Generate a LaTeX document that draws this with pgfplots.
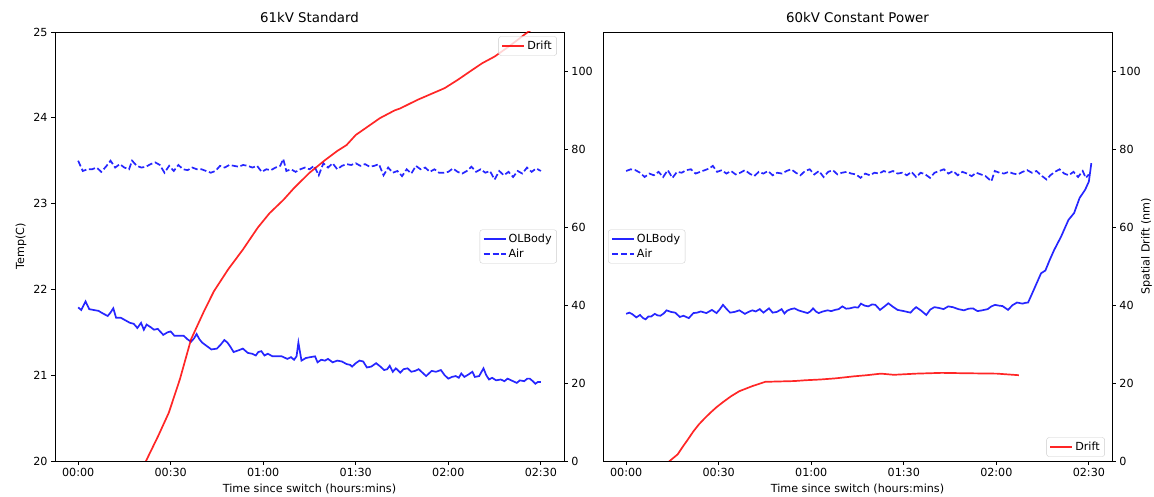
\documentclass[border=0pt]{standalone}
\usepackage{fontspec}
\setmainfont{DejaVu Sans}
\usepackage{pgfplots}
\pgfplotsset{compat=1.18}
\usepackage{pgfplotstable}

% ---------- Left panel: 61kV Standard ----------
\pgfplotstableread{
t T
0 21.79
1 21.76
2.4 21.86
3.6 21.77
5 21.76
6.6 21.75
8 21.72
9.6 21.69
10.5 21.73
11.4 21.78
12.3 21.67
13.8 21.67
15.3 21.64
16.8 21.61
18 21.60
19.2 21.55
20.4 21.61
21.3 21.53
22.2 21.59
23.5 21.56
24.6 21.53
25.8 21.54
27.6 21.47
29 21.50
30 21.51
31.2 21.46
33 21.46
34.2 21.46
35.4 21.42
36.6 21.39
37.6 21.43
38.4 21.48
39.3 21.42
40.2 21.38
41.7 21.34
43.2 21.30
45 21.31
46.3 21.36
47.4 21.41
48.4 21.38
49.2 21.34
50.4 21.27
52 21.29
53.4 21.31
55 21.26
56.4 21.25
57.6 21.23
58.4 21.27
59.4 21.28
60.4 21.23
61.5 21.25
63 21.22
64.2 21.22
66 21.22
67.8 21.19
69 21.21
70 21.18
70.8 21.22
71.4 21.38
72.4 21.17
73.8 21.20
75.2 21.21
76.8 21.22
77.6 21.15
78.8 21.18
80 21.17
81 21.19
82.5 21.15
84 21.17
85.5 21.16
87 21.13
88.2 21.12
88.8 21.10
90 21.14
91.2 21.17
92.4 21.16
93.6 21.09
95 21.10
96.6 21.14
98 21.10
99.2 21.06
100.2 21.07
101 21.11
102 21.04
103 21.08
104.4 21.03
105.5 21.07
106.8 21.08
108 21.04
109.2 21.05
110.4 21.07
111.6 21.03
112.8 20.99
114 21.03
114.6 21.05
116 21.04
117.6 21.06
118.8 21.00
120 20.96
121.2 20.98
122.4 20.99
123.4 20.97
124.2 21.02
125.2 20.98
126.6 21.01
127.8 21.04
128.6 20.98
130 20.99
131.4 21.08
132.3 21.00
133.2 20.95
134.2 20.97
135.5 20.94
137 20.95
138.2 20.93
139.2 20.96
140.4 20.94
142.2 20.91
143.2 20.94
144.6 20.93
145.6 20.96
146.4 20.96
147.4 20.93
148.2 20.90
149 20.92
150 20.92
}\olbodyA

\pgfplotstableread{
t T
0 23.50
1.5 23.38
3 23.40
4.5 23.40
6 23.42
7.5 23.37
9 23.43
10.5 23.50
12 23.42
13.5 23.46
15 23.42
16.5 23.40
17.5 23.50
19 23.44
20.5 23.42
22 23.43
23.5 23.46
25 23.48
26.5 23.45
28 23.36
29.5 23.44
31 23.38
32.5 23.45
34 23.40
35.5 23.39
37 23.42
38.5 23.40
40 23.40
41.5 23.38
43 23.36
44.5 23.38
46 23.44
47.5 23.42
49 23.45
50.5 23.44
52 23.43
53.5 23.45
55 23.44
56.5 23.42
58 23.44
59.5 23.37
61 23.40
62.5 23.39
64 23.42
65.5 23.44
66.5 23.52
67.5 23.38
69 23.40
70.5 23.37
72 23.40
73.5 23.42
75 23.40
76.5 23.44
78 23.33
79.5 23.47
81 23.42
82.5 23.47
84 23.40
85.5 23.44
87 23.46
88.5 23.45
90 23.47
91.5 23.44
93 23.46
94.5 23.43
96 23.44
97.5 23.46
99 23.33
100.5 23.42
102 23.36
103.5 23.38
105 23.32
106.5 23.40
108 23.35
109.5 23.44
111 23.40
112.5 23.42
114 23.37
115.5 23.40
117 23.36
118.5 23.36
120 23.37
121.5 23.41
123 23.37
124.5 23.35
126 23.38
127.5 23.43
129 23.37
130.5 23.40
132 23.36
133.5 23.38
135 23.28
136.5 23.38
138 23.33
139.5 23.37
141 23.31
142.5 23.38
144 23.35
145.5 23.42
147 23.37
148.5 23.41
150 23.38
}\airA

\pgfplotstableread{
t D
16 -10
22 0
26 6.5
29.4 12.4
33 21
36.6 31.2
40.8 38.4
44 43.5
48.6 49.1
53.4 54.2
58.2 59.8
62 63.5
66.6 67
70 70
75 73.9
79.8 77
84 79.5
87 81
90 83.6
94 85.8
97.8 87.9
102.6 89.9
104.4 90.4
110 92.6
118.8 95.6
123 97.7
127.8 100.3
131 102
135 103.7
140 106.5
145.8 110
150 112
}\driftA

% ---------- Right panel: 60kV Constant Power ----------
\pgfplotstableread{
t T
0 21.715
1 21.729
2 21.711
3.3 21.674
4.5 21.702
5.5 21.665
6.3 21.652
7.2 21.684
8.1 21.684
9.3 21.715
10.2 21.697
11.1 21.693
12.2 21.720
13.1 21.756
14.5 21.738
15.9 21.729
17.4 21.679
18.6 21.693
20.3 21.665
21.8 21.724
23 21.729
24.2 21.743
26 21.724
27.8 21.761
29.3 21.724
30.3 21.765
31.4 21.820
32.6 21.770
33.7 21.729
35.2 21.738
36.7 21.756
38.5 21.715
39.7 21.738
40.9 21.756
42 21.743
43.3 21.770
44.5 21.729
46.3 21.779
47.5 21.729
48.9 21.738
50.4 21.770
51.3 21.720
52.2 21.752
53.4 21.770
54.6 21.779
55.8 21.756
57 21.743
58.8 21.724
59.7 21.743
60.6 21.779
61.5 21.743
62.4 21.724
63.8 21.743
65.3 21.756
66.5 21.747
67.7 21.761
68.9 21.770
70.1 21.802
71.3 21.775
72.5 21.779
74 21.793
75.2 21.788
76.1 21.834
77.3 21.811
78.5 21.802
79.7 21.825
80.8 21.820
82.3 21.761
83.6 21.797
85 21.838
86.5 21.797
88 21.761
90 21.747
92.2 21.729
93.1 21.765
94 21.793
95.5 21.756
97.3 21.702
98.6 21.765
99.9 21.793
101.4 21.784
102.9 21.770
104.4 21.802
105.9 21.793
107.7 21.770
109.5 21.756
111 21.775
112.4 21.779
113.9 21.747
115.4 21.756
117.2 21.770
118.4 21.802
119.6 21.820
120.8 21.811
122 21.806
123.8 21.761
125.2 21.815
126.7 21.847
128.5 21.834
129.4 21.843
130.3 21.847
132.1 21.992
134.5 22.188
135.9 22.220
137.3 22.343
138.7 22.456
141 22.616
143.4 22.811
145.2 22.889
147 23.066
148.8 23.162
150 23.257
150.8 23.471
}\olbodyB

\pgfplotstableread{
t T
0 23.38
1.5 23.40
3 23.39
4.5 23.36
6 23.31
7.5 23.35
9 23.33
10.5 23.37
12 23.31
13.5 23.39
15 23.30
16.5 23.37
18 23.36
19.5 23.39
21 23.40
22.5 23.35
24 23.37
25.5 23.39
27 23.41
28.1 23.44
29.5 23.37
31 23.39
32.5 23.35
34 23.38
35.5 23.34
37 23.36
38.5 23.39
40 23.35
41.5 23.32
43 23.37
44.5 23.35
46 23.38
47.5 23.33
49 23.36
50.5 23.35
52 23.38
53.5 23.40
55 23.36
56.5 23.33
58 23.38
59.5 23.40
61 23.34
62.5 23.38
64 23.31
65.5 23.37
67 23.39
68.5 23.34
70 23.36
71.5 23.37
73 23.35
74.5 23.34
76 23.30
77.5 23.35
79 23.33
80.5 23.36
82 23.35
83.5 23.38
85 23.36
86.5 23.38
88 23.35
89.5 23.36
91 23.33
92.5 23.37
94 23.31
95.5 23.36
97 23.34
98.5 23.30
100 23.36
101.5 23.38
103 23.40
104.5 23.35
106 23.38
107.5 23.33
109 23.37
110.5 23.35
112 23.32
113.5 23.36
115 23.34
116.5 23.32
118.4 23.26
119.5 23.38
121 23.36
122.5 23.35
124 23.37
125.5 23.35
127 23.34
128.5 23.37
130 23.39
131.5 23.36
133 23.38
134.5 23.33
136.3 23.28
137.5 23.33
139 23.37
140.5 23.40
142 23.35
143.5 23.33
145 23.37
146.5 23.31
148 23.38
149 23.30
150 23.34
}\airB

\pgfplotstableread{
t D
12 -2
14.1 0
16.7 1.7
18.3 3.6
20 5.5
21.8 7.6
23.6 9.4
25.4 10.9
27.2 12.3
29.3 13.8
31.4 15.1
34 16.6
36.7 17.9
40.9 19.2
45.1 20.3
54.6 20.5
58 20.7
63 20.9
68 21.2
73.7 21.7
78 22.0
82.6 22.4
86.8 22.1
94 22.4
102.3 22.6
110 22.5
120.2 22.4
127.3 22.0
}\driftB

\newcommand{\fs}{\fontsize{11.2}{13.4}\selectfont}
\pgfplotsset{
  base/.style={
    scale only axis, width=509bp, height=429bp,
    xmin=-7.5, xmax=157.5,
    font=\fs,
    tick label style={font=\fs},
    label style={font=\fs},
    /pgf/number format/assume math mode=true,
    tick align=outside, major tick length=3.9bp,
    every tick/.style={black, line width=0.9bp},
    axis line style={line width=0.9bp},
    legend cell align=left,
    legend style={draw=black!20, rounded corners=2.5bp, fill=white, fill opacity=0.8, text opacity=1,
      font=\fs, inner xsep=3bp, inner ysep=2.5bp, row sep=0.5bp,
      nodes={inner sep=2bp}},
    legend image code/.code={\draw[##1] (0bp,0bp) -- (22bp,0bp);},
    title style={font=\fontsize{13.4}{16}\selectfont},
  },
  temp/.style={base, ymin=20, ymax=25,
    xtick={0,30,60,90,120,150},
    xticklabels={00:00,00:30,01:00,01:30,02:00,02:30},
    xtick pos=bottom, ytick pos=left,
    xlabel={Time since switch (hours:mins)}},
  drift/.style={base, ymin=0, ymax=110, ytick={0,20,40,60,80,100},
    hide x axis, axis y line*=right, ytick pos=right},
  ol/.style={blue, line width=1.7bp, draw opacity=0.85},
  air/.style={blue, line width=1.7bp, draw opacity=0.85, dash pattern=on 6.2bp off 2.7bp},
  dr/.style={red, line width=1.7bp, draw opacity=0.85},
}

\begin{document}
\begin{tikzpicture}
% Left panel
\begin{axis}[temp, at={(0bp,0bp)}, anchor=south west,
  ytick={20,21,22,23,24,25}, ylabel={Temp(C)}, title={61kV Standard},
  legend style={at={(0.986,0.5)}, anchor=east}]
\addplot[ol] table[x=t,y=T] {\olbodyA}; \addlegendentry{OLBody}
\addplot[air] table[x=t,y=T] {\airA}; \addlegendentry{Air}
\end{axis}
\begin{axis}[drift, at={(0bp,0bp)}, anchor=south west,
  legend style={at={(0.986,0.99)}, anchor=north east}]
\addplot[dr] table[x=t,y=D] {\driftA}; \addlegendentry{Drift}
\end{axis}
% Right panel
\begin{axis}[temp, at={(548bp,0bp)}, anchor=south west,
  ytick=\empty, title={60kV Constant Power},
  legend style={at={(0.01,0.5)}, anchor=west}]
\addplot[ol] table[x=t,y=T] {\olbodyB}; \addlegendentry{OLBody}
\addplot[air] table[x=t,y=T] {\airB}; \addlegendentry{Air}
\end{axis}
\begin{axis}[drift, at={(548bp,0bp)}, anchor=south west,
  ylabel={Spatial Drift (nm)},
  every axis y label/.style={at={(axis description cs:1.068,0.5)}, rotate=90, anchor=center},
  legend style={at={(0.986,0.01)}, anchor=south east}]
\addplot[dr] table[x=t,y=D] {\driftB}; \addlegendentry{Drift}
\end{axis}
\pgfresetboundingbox
\path[use as bounding box] (-55bp,-36bp) rectangle (1099bp,461bp);
\end{tikzpicture}
\end{document}
